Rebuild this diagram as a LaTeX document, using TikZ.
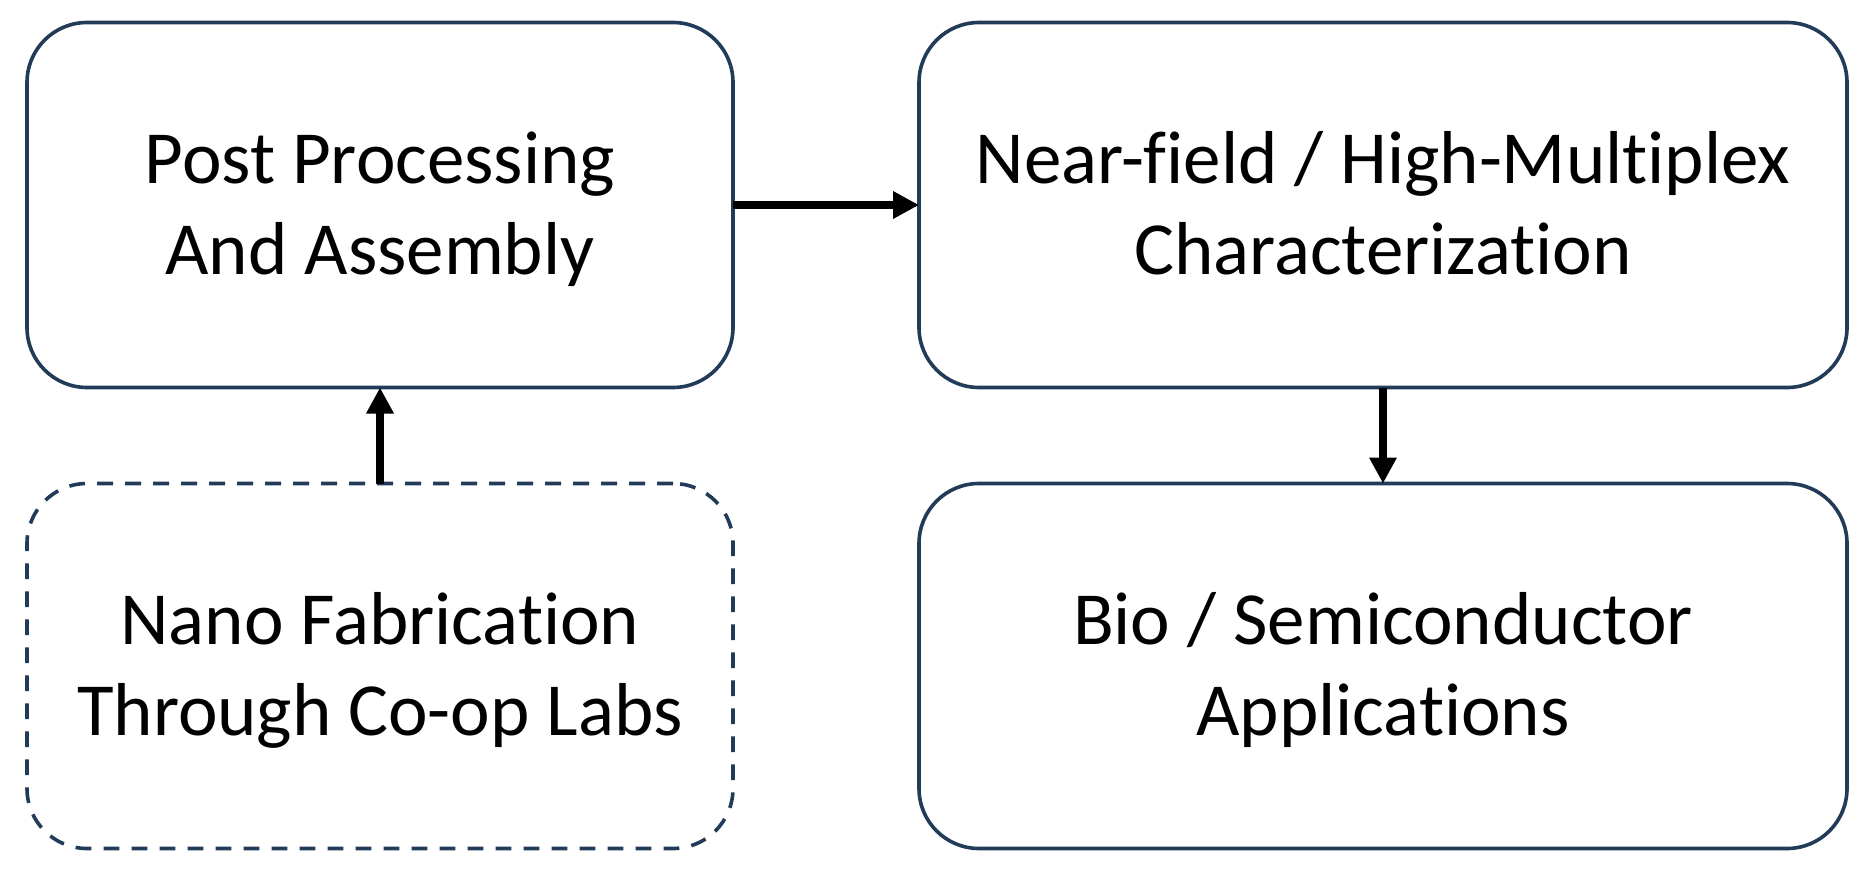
\documentclass[tikz,border=0pt]{standalone}
\usepackage{fontspec}
\setmainfont{Carlito}[Ligatures=NoCommon]
\usetikzlibrary{arrows.meta}
\definecolor{boxblue}{RGB}{33,59,88}
\newcommand{\topstrut}{\rule{0pt}{0.9em}}
\newcommand{\botstrut}{\rule[-0.268em]{0pt}{0pt}}
\begin{document}
\begin{tikzpicture}[x=0.5pt,y=-0.5pt,
  stagebox/.style={draw=boxblue, line width=1.8pt, rounded corners=30pt, fill=white,
    outer sep=0pt, inner sep=0pt, align=center, text=black,
    font=\fontsize{37.5}{45.5}\selectfont},
  narrowbox/.style={stagebox, minimum width=353pt, minimum height=182.5pt},
  widebox/.style={stagebox, minimum width=464pt, minimum height=182.5pt},
  dashbox/.style={dash pattern=on 7.9pt off 6.1pt},
  flow/.style={line width=4pt, draw=black, -{Triangle[length=13pt,width=13pt]}}]
\useasboundingbox (0,0) rectangle (1874,877);
\node[narrowbox] (post) at (380,205) {\topstrut Post Processing\\And Assembly\botstrut};
\node[widebox] (near) at (1383,205) {\topstrut Near-field / High-Multiplex\\Characterization\botstrut};
\node[narrowbox, dashbox] (nano) at (380,666) {\topstrut Nano Fabrication\\Through Co-op Labs\botstrut};
\node[widebox] (bio) at (1383,666) {\topstrut Bio / Semiconductor\\Applications\botstrut};
\draw[flow] (post.east) -- (near.west);
\draw[flow] (nano.north) -- (post.south);
\draw[flow] (near.south) -- (bio.north);
\end{tikzpicture}
\end{document}
